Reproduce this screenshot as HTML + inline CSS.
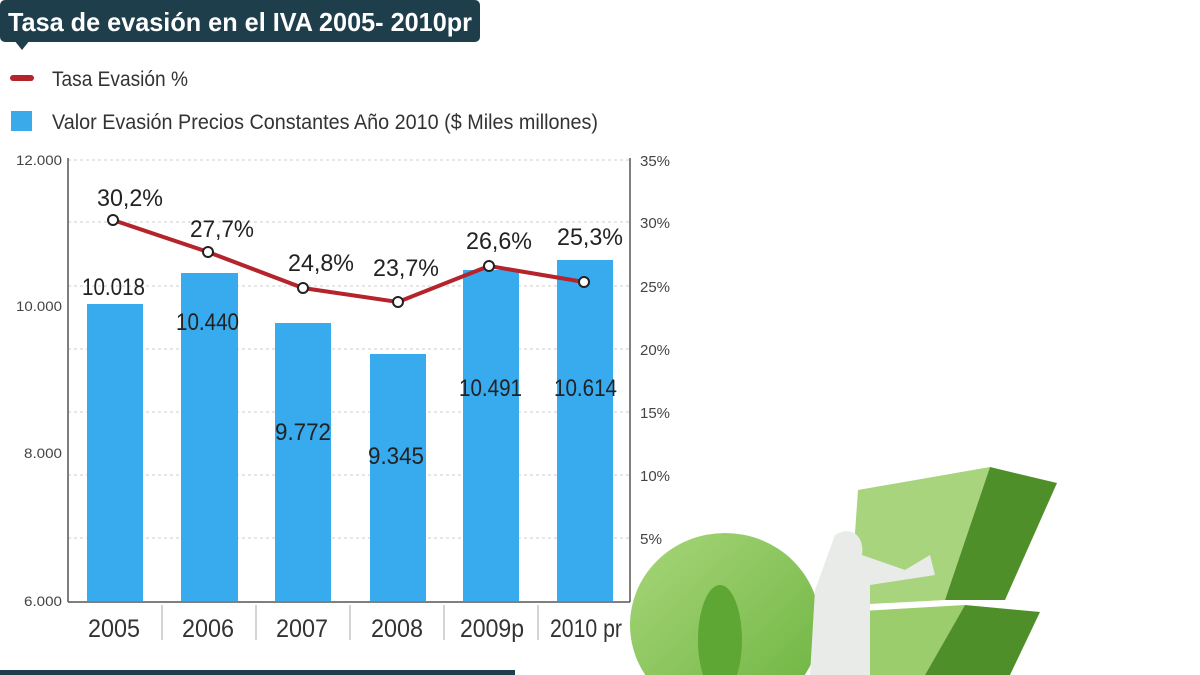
<!DOCTYPE html>
<html><head><meta charset="utf-8"><style>
html,body{margin:0;padding:0;background:#fff;overflow:hidden;width:1200px;height:675px;}
svg{display:block;font-family:"Liberation Sans",sans-serif;}
</style></head><body>
<svg width="1200" height="675" viewBox="0 0 1200 675" xmlns="http://www.w3.org/2000/svg">
<defs>
<linearGradient id="g1" x1="0" y1="0" x2="1" y2="1"><stop offset="0" stop-color="#a8d67a"/><stop offset="1" stop-color="#6cb33f"/></linearGradient>
</defs>
<rect x="0" y="0" width="480" height="42" rx="5" fill="#1e3e4c"/>
<polygon points="14,40 30,40 22,50" fill="#1e3e4c"/>
<text x="8" y="31" font-size="26" font-weight="bold" fill="#fff" textLength="464" lengthAdjust="spacingAndGlyphs">Tasa de evasión en el IVA 2005- 2010pr</text>
<rect x="10" y="75" width="24" height="6" rx="3" fill="#b5232b"/>
<text x="52" y="86" font-size="21" fill="#333" textLength="136" lengthAdjust="spacingAndGlyphs">Tasa Evasión %</text>
<rect x="11" y="111" width="21" height="20" fill="#3aaaea"/>
<text x="52" y="129" font-size="21" fill="#333" textLength="546" lengthAdjust="spacingAndGlyphs">Valor Evasión Precios Constantes Año 2010 ($ Miles millones)</text>
<g stroke="#ccc" stroke-dasharray="3,3" stroke-width="1">
<line x1="68" y1="160" x2="630" y2="160"/><line x1="68" y1="222" x2="630" y2="222"/>
<line x1="68" y1="286" x2="630" y2="286"/><line x1="68" y1="349" x2="630" y2="349"/>
<line x1="68" y1="412" x2="630" y2="412"/><line x1="68" y1="475" x2="630" y2="475"/>
<line x1="68" y1="538" x2="630" y2="538"/>
</g>
<g fill="#38aaee">
<rect x="87" y="304" width="56" height="297"/>
<rect x="181" y="273" width="57" height="328"/>
<rect x="275" y="323" width="56" height="278"/>
<rect x="370" y="354" width="56" height="247"/>
<rect x="463" y="270" width="56" height="331"/>
<rect x="557" y="260" width="56" height="341"/>
</g>
<g stroke="#555" stroke-width="1.5" fill="none">
<line x1="68" y1="158" x2="68" y2="602"/><line x1="630" y1="158" x2="630" y2="602"/>
<line x1="68" y1="602" x2="630" y2="602"/>
</g>
<g stroke="#aaa" stroke-width="1">
<line x1="162" y1="605" x2="162" y2="640"/><line x1="256" y1="605" x2="256" y2="640"/>
<line x1="350" y1="605" x2="350" y2="640"/><line x1="444" y1="605" x2="444" y2="640"/>
<line x1="538" y1="605" x2="538" y2="640"/>
</g>
<g font-size="14" fill="#444" text-anchor="end" lengthAdjust="spacingAndGlyphs">
<text x="62" y="165" textLength="46" lengthAdjust="spacingAndGlyphs">12.000</text><text x="62" y="311" textLength="46" lengthAdjust="spacingAndGlyphs">10.000</text>
<text x="62" y="458" textLength="38" lengthAdjust="spacingAndGlyphs">8.000</text><text x="62" y="606" textLength="38" lengthAdjust="spacingAndGlyphs">6.000</text>
</g>
<g font-size="15" fill="#444">
<text x="640" y="166" textLength="30" lengthAdjust="spacingAndGlyphs">35%</text><text x="640" y="228" textLength="30" lengthAdjust="spacingAndGlyphs">30%</text><text x="640" y="292" textLength="30" lengthAdjust="spacingAndGlyphs">25%</text>
<text x="640" y="355" textLength="30" lengthAdjust="spacingAndGlyphs">20%</text><text x="640" y="418" textLength="30" lengthAdjust="spacingAndGlyphs">15%</text><text x="640" y="481" textLength="30" lengthAdjust="spacingAndGlyphs">10%</text>
<text x="640" y="544" textLength="22" lengthAdjust="spacingAndGlyphs">5%</text>
</g>
<g font-size="25" fill="#333">
<text x="88" y="637" textLength="52" lengthAdjust="spacingAndGlyphs">2005</text><text x="182" y="637" textLength="52" lengthAdjust="spacingAndGlyphs">2006</text><text x="276" y="637" textLength="52" lengthAdjust="spacingAndGlyphs">2007</text>
<text x="371" y="637" textLength="52" lengthAdjust="spacingAndGlyphs">2008</text><text x="460" y="637" textLength="64" lengthAdjust="spacingAndGlyphs">2009p</text><text x="550" y="637" textLength="72" lengthAdjust="spacingAndGlyphs">2010 pr</text>
</g>
<g font-size="24" fill="#222">
<text x="82" y="295" textLength="63" lengthAdjust="spacingAndGlyphs">10.018</text><text x="176" y="330" textLength="63" lengthAdjust="spacingAndGlyphs">10.440</text>
<text x="275" y="440" textLength="56" lengthAdjust="spacingAndGlyphs">9.772</text><text x="368" y="464" textLength="56" lengthAdjust="spacingAndGlyphs">9.345</text>
<text x="459" y="396" textLength="63" lengthAdjust="spacingAndGlyphs">10.491</text><text x="554" y="396" textLength="63" lengthAdjust="spacingAndGlyphs">10.614</text>
</g>
<polyline points="113,220 208,252 303,288 398,302 489,266 584,282" fill="none" stroke="#b5232b" stroke-width="4"/>
<g fill="#fff" stroke="#222" stroke-width="2">
<circle cx="113" cy="220" r="5"/><circle cx="208" cy="252" r="5"/><circle cx="303" cy="288" r="5"/>
<circle cx="398" cy="302" r="5"/><circle cx="489" cy="266" r="5"/><circle cx="584" cy="282" r="5"/>
</g>
<g font-size="24" fill="#222">
<text x="97" y="206" textLength="66" lengthAdjust="spacingAndGlyphs">30,2%</text><text x="190" y="237" textLength="64" lengthAdjust="spacingAndGlyphs">27,7%</text><text x="288" y="271" textLength="66" lengthAdjust="spacingAndGlyphs">24,8%</text>
<text x="373" y="276" textLength="66" lengthAdjust="spacingAndGlyphs">23,7%</text><text x="466" y="249" textLength="66" lengthAdjust="spacingAndGlyphs">26,6%</text><text x="557" y="245" textLength="66" lengthAdjust="spacingAndGlyphs">25,3%</text>
</g>
<rect x="0" y="670" width="515" height="5" fill="#1e3e4c"/>
<ellipse cx="725" cy="625" rx="95" ry="92" fill="url(#g1)"/>
<ellipse cx="720" cy="640" rx="22" ry="55" fill="#5fa735"/>
<polygon points="858,490 990,467 945,600 850,605" fill="#a7d47c"/>
<polygon points="990,467 1057,483 1005,600 945,600" fill="#4f8f2a"/>
<polygon points="845,612 965,605 925,675 838,675" fill="#9ccd6d"/>
<polygon points="965,605 1040,612 1010,675 925,675" fill="#4f8f2a"/>
<path d="M835,535 C850,525 865,535 862,555 L905,570 L930,555 L935,575 L870,585 L870,675 L810,675 L815,590 Z" fill="#e9ebe8"/>
</svg>
</body></html>
